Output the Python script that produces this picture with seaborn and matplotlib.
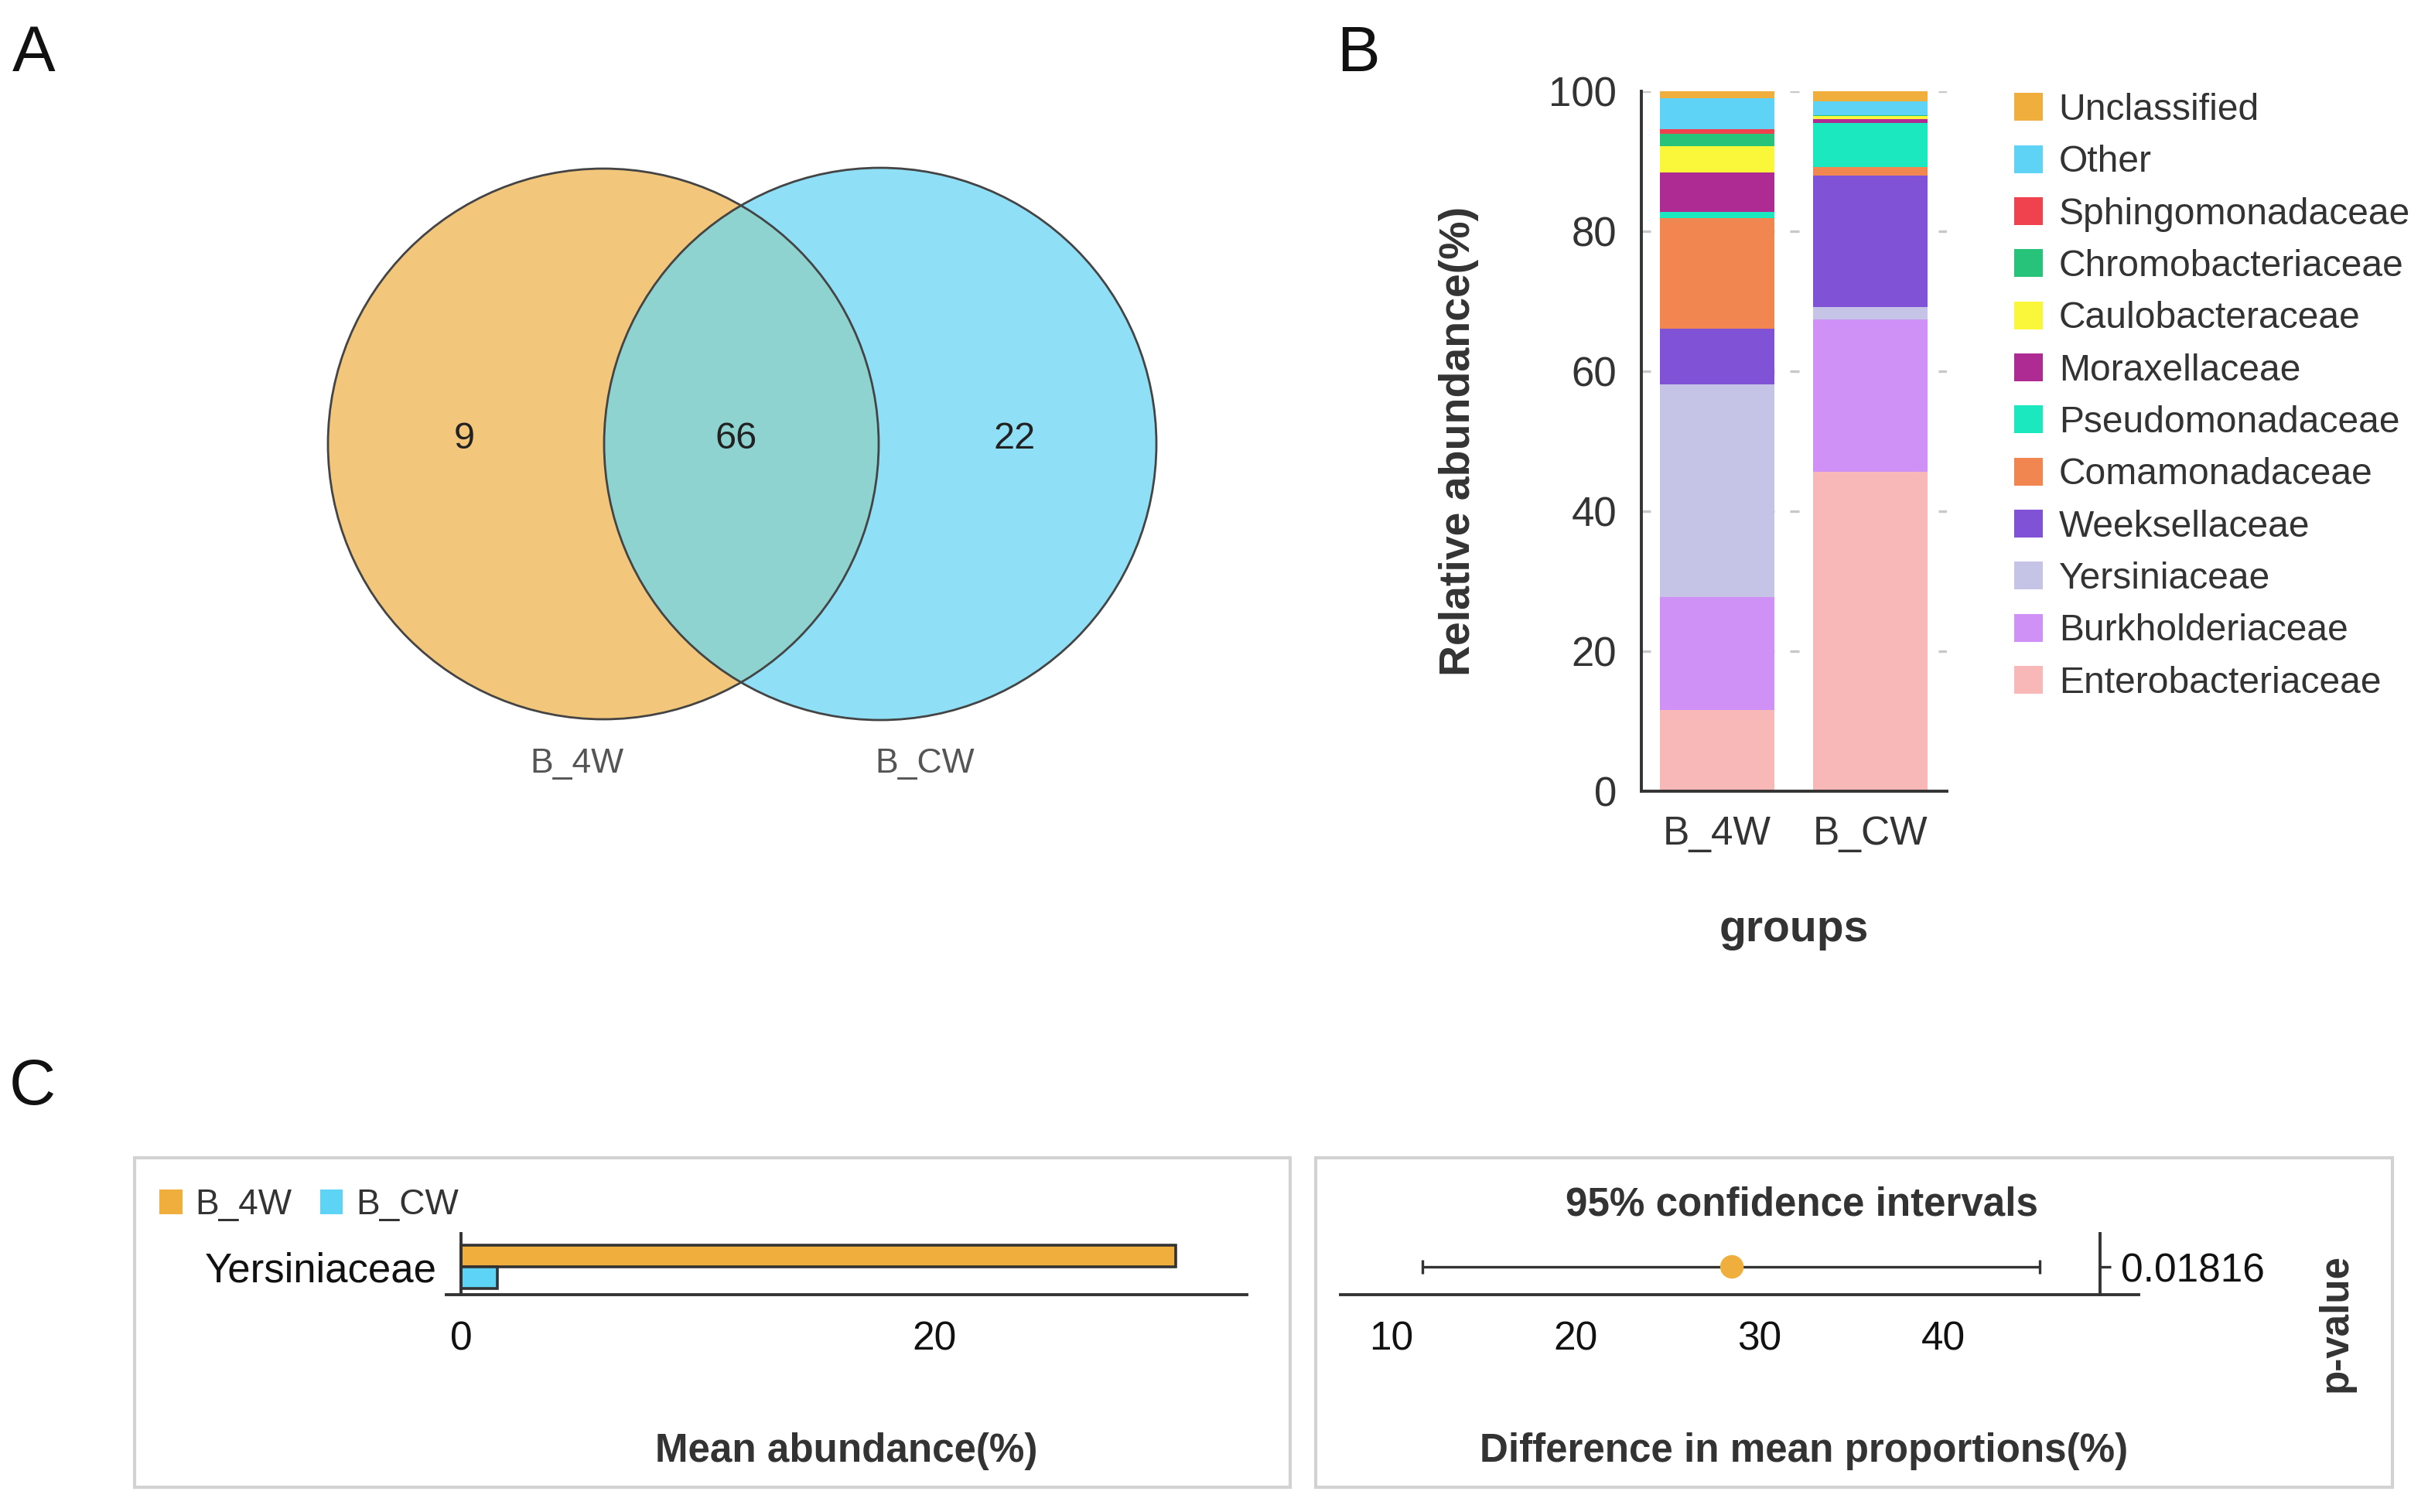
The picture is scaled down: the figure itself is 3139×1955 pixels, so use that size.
import numpy as np
import pandas as pd
import matplotlib
matplotlib.use("Agg")
import matplotlib.pyplot as plt
from matplotlib.patches import Circle, Rectangle, Patch
import seaborn as sns

# ---------------- data ----------------
venn_sets = ["B_4W", "B_CW"]
venn_counts = [9, 66, 22]          # only B_4W, shared, only B_CW

groups = ["B_4W", "B_CW"]
families = ["Enterobacteriaceae", "Burkholderiaceae", "Yersiniaceae", "Weeksellaceae",
            "Comamonadaceae", "Pseudomonadaceae", "Moraxellaceae", "Caulobacteraceae",
            "Chromobacteriaceae", "Sphingomonadaceae", "Other", "Unclassified"]
abund_b4w = [11.6, 16.1, 30.4, 8.0, 15.8, 0.9, 5.6, 3.7, 1.8, 0.7, 4.4, 1.0]
abund_bcw = [45.6, 21.8, 1.8, 18.8, 1.2, 6.3, 0.5, 0.5, 0.05, 0.05, 2.0, 1.4]
family_colors = ["#F9B8B8", "#D091F6", "#C5C4E6", "#8052D6", "#F28650", "#1CE8C0",
                 "#AD2B92", "#FAF63A", "#27C37A", "#F0424E", "#5FD3F5", "#F0AE3C"]

diff_feature = ["Yersiniaceae"]
mean_b4w = [30.2]
mean_bcw = [1.55]
diff_mean = [28.5]
ci_low = [11.7]
ci_high = [45.2]
p_values = [0.01816]

group_colors = ["#F0AE3C", "#5DD3F5"]

# ---------------- style ----------------
sns.set_theme(style="white")
plt.rcParams["font.family"] = ["Liberation Sans", "DejaVu Sans"]

W, H, DPI = 3139, 1955, 200
fig = plt.figure(figsize=(W / DPI, H / DPI), dpi=DPI)
fig.patch.set_facecolor("white")


def fbox(x0, y0, x1, y1):
    return [x0 / W, 1 - y1 / H, (x1 - x0) / W, (y1 - y0) / H]


DARK = "#333333"

# ---------------- panel A : Venn ----------------
axV = fig.add_axes(fbox(300, 150, 1620, 1060))
axV.set_xlim(300, 1620)
axV.set_ylim(1060, 150)
axV.axis("off")
cL, cR, r = (780, 574), (1138, 574), 356
left = Circle(cL, r, fc="#F2C77B", ec="none")
right = Circle(cR, r + 1, fc="#8FE0F7", ec="none")
axV.add_patch(left)
axV.add_patch(right)
ov = Circle(cR, r + 1, fc="#8ED3CF", ec="none")
axV.add_patch(ov)
ov.set_clip_path(left)
axV.add_patch(Circle(cL, r, fill=False, ec="#444444", lw=1.0))
axV.add_patch(Circle(cR, r + 1, fill=False, ec="#444444", lw=1.0))
for xx, val in zip([600, 952, 1312], venn_counts):
    axV.text(xx, 568, str(val), ha="center", va="center", fontsize=17.5, color="#222222")
for xx, lab in zip([746, 1196], venn_sets):
    axV.text(xx, 988, lab, ha="center", va="center", fontsize=16, color="#555555")

# ---------------- panel B : stacked bars ----------------
axB = fig.add_axes(fbox(2122, 118, 2517, 1023))
cum4 = np.cumsum(abund_b4w)
cumc = np.cumsum(abund_bcw)
for i in range(len(families) - 1, -1, -1):
    sns.barplot(x=groups, y=[cum4[i], cumc[i]], color=family_colors[i], width=0.747,
                saturation=1, edgecolor="none", linewidth=0, ax=axB)
axB.set_xlim(-0.495, 1.5)
axB.set_ylim(0, 100)
axB.set_yticks([0, 20, 40, 60, 80, 100])
axB.yaxis.grid(True, linestyle=(0, (3.6, 6)), color="#c8c8c8", lw=1.2)
axB.xaxis.grid(False)
axB.set_axisbelow(True)
for s in ["top", "right"]:
    axB.spines[s].set_visible(False)
for s in ["left", "bottom"]:
    axB.spines[s].set_linewidth(1.4)
    axB.spines[s].set_color(DARK)
axB.tick_params(axis="both", direction="out", length=8.3, width=1.4, color=DARK,
                labelcolor=DARK, labelsize=19)
axB.tick_params(axis="y", pad=3.2)
axB.tick_params(axis="x", pad=3.0, labelsize=18.5)
axB.set_ylabel("Relative abundance(%)", fontsize=20, fontweight="bold", color=DARK)
axB.yaxis.set_label_coords((1886 - 2122) / 395, 0.5)
axB.yaxis.label.set_va("center")
axB.set_xlabel("groups", fontsize=20.5, fontweight="bold", color=DARK)
axB.xaxis.set_label_coords(0.5, (1023 - 1202) / 905)
axB.xaxis.label.set_va("center")

handles = [Patch(fc=c, ec="none") for c in family_colors[::-1]]
fig.legend(handles, families[::-1], loc="upper left",
           bbox_to_anchor=(2604 / W, 1 - 120 / H), frameon=False, fontsize=17.3,
           handlelength=0.78, handleheight=0.78, handletextpad=0.42,
           labelspacing=0.465, borderpad=0, borderaxespad=0, labelcolor=DARK)

# ---------------- panel C : boxes ----------------
for (x0, y0, x1, y1) in [(174, 1497, 1668, 1923), (1701, 1497, 3093, 1923)]:
    fig.add_artist(Rectangle((x0 / W, 1 - y1 / H), (x1 - x0) / W, (y1 - y0) / H,
                             transform=fig.transFigure, fill=False,
                             ec="#d2d2d2", lw=1.5))

# left: mean abundance bars
axCL = fig.add_axes(fbox(577, 1595, 1612, 1674))
dfC = pd.DataFrame({"family": diff_feature * 2,
                    "group": groups,
                    "mean": mean_b4w + mean_bcw})
sns.barplot(data=dfC, x="mean", y="family", hue="group", hue_order=groups,
            palette=group_colors, orient="h", width=0.8, saturation=1,
            edgecolor=DARK, linewidth=1.3, ax=axCL, legend=False)
axCL.set_xlim(-0.62, 33.2)
axCL.set_ylim(0.514, -0.614)
axCL.set_xticks([0, 20])
axCL.spines["top"].set_visible(False)
axCL.spines["right"].set_visible(False)
axCL.spines["left"].set_position(("data", 0))
for s in ["left", "bottom"]:
    axCL.spines[s].set_linewidth(1.4)
    axCL.spines[s].set_color(DARK)
axCL.tick_params(axis="x", direction="out", length=8.3, width=1.2, color=DARK,
                 labelsize=18.5, pad=3.6, labelcolor="#111111")
axCL.tick_params(axis="y", direction="out", length=6.8, width=1.2, color=DARK,
                 labelsize=19, pad=4.3, labelcolor="#111111")
axCL.set_ylabel("")
axCL.set_xlabel("Mean abundance(%)", fontsize=18.4, fontweight="bold", color=DARK)
axCL.xaxis.set_label_coords(0.5, (1674 - 1877) / 79)
axCL.xaxis.label.set_va("center")
fig.legend([Patch(fc=c, ec="none") for c in group_colors], groups, ncol=2,
           loc="upper left", bbox_to_anchor=(206 / W, 1 - 1536 / H), frameon=False,
           fontsize=16.5, handlelength=0.65, handleheight=0.7, handletextpad=0.37,
           columnspacing=0.78, borderpad=0, borderaxespad=0, labelcolor=DARK)

# right: confidence interval
axCR = fig.add_axes(fbox(1733, 1595, 2765, 1674))
lo = [m - l for m, l in zip(diff_mean, ci_low)]
hi = [h - m for m, h in zip(diff_mean, ci_high)]
axCR.errorbar(diff_mean, [0], xerr=[lo, hi], fmt="none", ecolor=DARK,
              elinewidth=1.2, capsize=3.3, capthick=1.2, zorder=2)
sns.scatterplot(x=diff_mean, y=[0], color=group_colors[0], s=120, edgecolor="none",
                ax=axCR, zorder=3)
axCR.set_xlim(7.23, 50.6)
axCR.set_ylim(0.514, -0.614)
axCR.spines["top"].set_visible(False)
axCR.spines["left"].set_visible(False)
axCR.spines["right"].set_position(("data", 48.5))
for s in ["right", "bottom"]:
    axCR.spines[s].set_linewidth(1.4)
    axCR.spines[s].set_color(DARK)
axCR.yaxis.tick_right()
axCR.set_yticks([0])
axCR.set_yticklabels([f"{p:.5f}" for p in p_values])
axCR.set_xticks([10, 20, 30, 40])
axCR.set_xticks([48.5], minor=True)
axCR.tick_params(axis="x", which="both", direction="out", length=8.3, width=1.2,
                 color=DARK, labelsize=18.5, pad=3.6, labelcolor="#111111")
axCR.tick_params(axis="y", direction="out", length=5, width=1.2, color=DARK,
                 labelsize=18.5, pad=4.7, labelcolor="#111111")
axCR.set_ylabel("")
axCR.set_xlabel("Difference in mean proportions(%)", fontsize=18.4,
                fontweight="bold", color=DARK)
axCR.xaxis.set_label_coords((2332 - 1733) / 1032, (1674 - 1877) / 79)
axCR.xaxis.label.set_va("center")
fig.text(2330 / W, 1 - 1558 / H, "95% confidence intervals", ha="center",
         va="center", fontsize=18.4, fontweight="bold", color=DARK)
fig.text(3020 / W, 1 - 1711 / H, "p-value", ha="center", va="center",
         rotation=90, fontsize=18.4, fontweight="bold", color=DARK)

# ---------------- panel letters ----------------
for (x, y, t) in [(44, 70, "A"), (1756, 70, "B"), (42, 1406, "C")]:
    fig.text(x / W, 1 - y / H, t, ha="center", va="center", fontsize=30,
             color="#111111")

fig.savefig("out.png", dpi=DPI, facecolor="white")
